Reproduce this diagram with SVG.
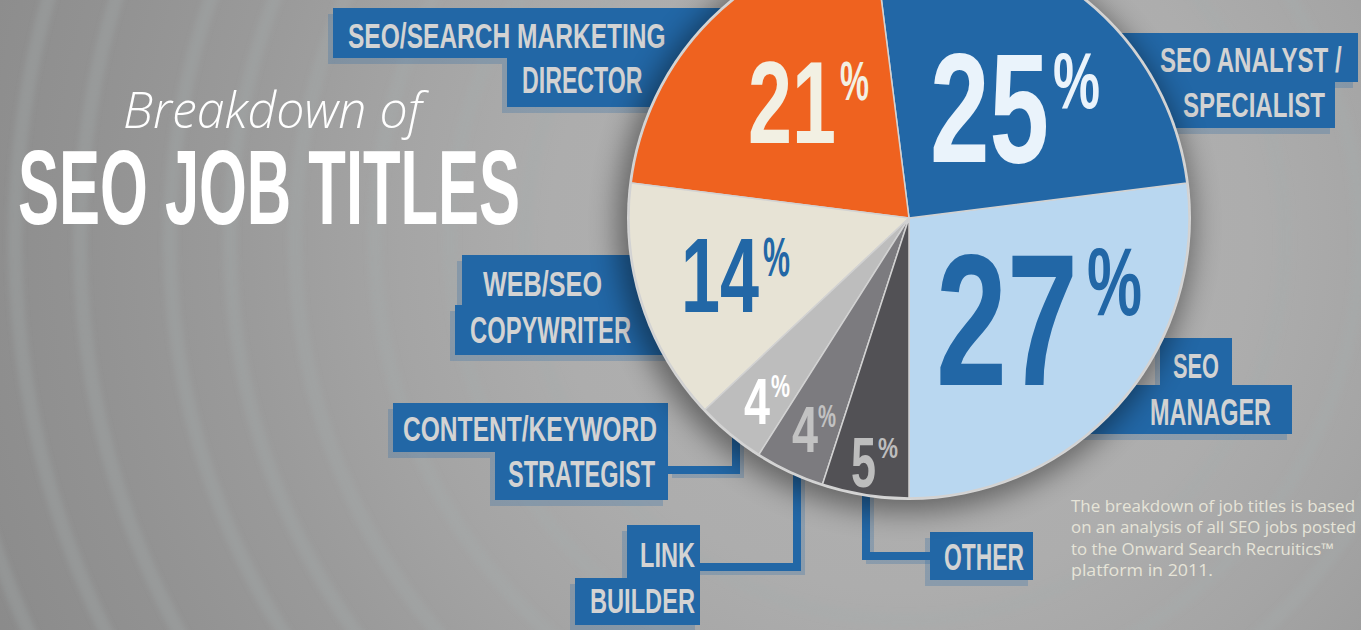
<svg xmlns="http://www.w3.org/2000/svg" width="1361" height="630" viewBox="0 0 1361 630">
<defs>
<radialGradient id="bg" gradientUnits="userSpaceOnUse" cx="900" cy="240" r="1000">
<stop offset="0" stop-color="#b2b2b2"/>
<stop offset="0.35" stop-color="#adadad"/>
<stop offset="0.5" stop-color="#a5a5a5"/>
<stop offset="0.65" stop-color="#9b9b9b"/>
<stop offset="0.8" stop-color="#939393"/>
<stop offset="1" stop-color="#8a8a8a"/>
</radialGradient>
<filter id="blur" x="-20%" y="-20%" width="140%" height="140%"><feGaussianBlur stdDeviation="14"/></filter>
<filter id="ringblur" x="-10%" y="-10%" width="120%" height="120%"><feGaussianBlur stdDeviation="2.5"/></filter>
<style>
.box{fill:#2267a6}
.bsh{fill:#2267a6;opacity:0.25}
.lbl{font-family:"Liberation Sans",Arial,sans-serif;font-weight:bold;fill:#d3d3d3;font-size:36px}
.con{fill:none;stroke:#2267a6;stroke-width:8}
.csh{fill:none;stroke:#2267a6;stroke-width:8;opacity:0.25}
.num{font-family:"Liberation Sans",Arial,sans-serif;font-weight:bold}
.sep{stroke:#d2d2d2;stroke-width:1.5;stroke-linejoin:round}
.note{font-family:"Open Sans","DejaVu Sans",sans-serif;font-size:16px;fill:#e6e4d8}
.ring{fill:none;stroke:#a6acac;stroke-width:14;opacity:0.3}
</style>
</defs>
<rect width="1361" height="630" fill="url(#bg)"/>
<g filter="url(#ringblur)">
<circle class="ring" cx="905" cy="240" r="380"/>
<circle class="ring" cx="905" cy="240" r="455"/>
<circle class="ring" cx="905" cy="240" r="530"/>
<circle class="ring" cx="905" cy="240" r="610"/>
<circle class="ring" cx="905" cy="240" r="675"/>
<circle class="ring" cx="905" cy="240" r="735"/>
<circle class="ring" cx="905" cy="240" r="825"/>
<circle class="ring" cx="905" cy="240" r="890"/>
<circle class="ring" cx="905" cy="240" r="960"/>
</g>

<g id="connectors">
<polyline class="csh" points="672,474 740,474 740,430"/>
<polyline class="csh" points="700,571 801,571 801,470"/>
<polyline class="csh" points="870,490 870,560 930,560"/>
<polyline class="con" points="668,470 736,470 736,430"/>
<polyline class="con" points="700,567 797,567 797,470"/>
<polyline class="con" points="866,490 866,556 930,556"/>
</g>

<g id="label-director">
<path class="bsh" transform="translate(-5,6)" d="M333,8H740V107H507V58H333Z"/>
<path class="box" d="M333,8H740V107H507V58H333Z"/>
<text class="lbl" transform="translate(348,48) scale(0.682,1)">SEO/SEARCH MARKETING</text>
<text class="lbl" transform="translate(522,93) scale(0.644,1)">DIRECTOR</text>
</g>
<g id="label-analyst">
<path class="bsh" transform="translate(-5,6)" d="M1090,33H1358V82H1335V128H1090Z"/>
<path class="box" d="M1090,33H1358V82H1335V128H1090Z"/>
<text class="lbl" transform="translate(1160,72) scale(0.67,1)">SEO ANALYST /</text>
<text class="lbl" transform="translate(1183,117) scale(0.67,1)">SPECIALIST</text>
</g>
<g id="label-copywriter">
<path class="bsh" transform="translate(-5,6)" d="M462,255H700V355H455V305H462Z"/>
<path class="box" d="M462,255H700V355H455V305H462Z"/>
<text class="lbl" transform="translate(483,296) scale(0.70,1)">WEB/SEO</text>
<text class="lbl" transform="translate(470,343) scale(0.66,1)">COPYWRITER</text>
</g>
<g id="label-strategist">
<path class="bsh" transform="translate(-5,6)" d="M393,403H668V500H495V452H393Z"/>
<path class="box" d="M393,403H668V500H495V452H393Z"/>
<text class="lbl" transform="translate(403,441) scale(0.683,1)">CONTENT/KEYWORD</text>
<text class="lbl" transform="translate(508,487) scale(0.653,1)">STRATEGIST</text>
</g>
<g id="label-linkbuilder">
<path class="bsh" transform="translate(-5,6)" d="M627,525H700V625H575V578H627Z"/>
<path class="box" d="M627,525H700V625H575V578H627Z"/>
<text class="lbl" transform="translate(640,567) scale(0.655,1)">LINK</text>
<text class="lbl" transform="translate(590,613) scale(0.656,1)">BUILDER</text>
</g>
<g id="label-other">
<path class="bsh" transform="translate(-5,6)" d="M930,532H1033V580H930Z"/>
<path class="box" d="M930,532H1033V580H930Z"/>
<text class="lbl" transform="translate(944,570) scale(0.635,1)">OTHER</text>
</g>
<g id="label-manager">
<path class="bsh" transform="translate(-5,6)" d="M1160,338H1232V385H1292V434H1080V385H1160Z"/>
<path class="box" d="M1160,338H1232V385H1292V434H1080V385H1160Z"/>
<text class="lbl" transform="translate(1173,378) scale(0.605,1)">SEO</text>
<text class="lbl" transform="translate(1150,425) scale(0.651,1)">MANAGER</text>
</g>

<g id="pie">
<circle cx="905" cy="224" r="288" fill="#000" opacity="0.42" filter="url(#blur)"/>
<circle cx="909" cy="218" r="282" fill="#d6d6d6"/>
<g class="sep">
<path d="M909,218L909,498A280,280 0 0 0 1186.8,182.9Z" fill="#b9d7f0"/>
<path d="M909,218L1186.8,182.9A280,280 0 0 0 873.9,-59.8Z" fill="#2267a6"/>
<path d="M909,218L873.9,-59.8A280,280 0 0 0 631.2,182.9Z" fill="#ef621f"/>
<path d="M909,218L631.2,182.9A280,280 0 0 0 704.9,409.7Z" fill="#e7e3d5"/>
<path d="M909,218L704.9,409.7A280,280 0 0 0 759,454.4Z" fill="#bdbdbd"/>
<path d="M909,218L759,454.4A280,280 0 0 0 822.5,484.3Z" fill="#7c7b7f"/>
<path d="M909,218L822.5,484.3A280,280 0 0 0 909,498Z" fill="#525155"/>
</g>
</g>

<g id="values">
<text class="num" font-size="116" fill="#f2f0e3" transform="translate(748,143) scale(0.682,1)">21</text>
<text class="num" font-size="56" fill="#f2f0e3" transform="translate(840,100) scale(0.582,1)">%</text>
<text class="num" font-size="156" fill="#eaf3fb" transform="translate(930,162) scale(0.686,1)">25</text>
<text class="num" font-size="80" fill="#eaf3fb" transform="translate(1053,108) scale(0.661,1)">%</text>
<text class="num" font-size="106" fill="#2267a6" transform="translate(681,312) scale(0.662,1)">14</text>
<text class="num" font-size="56" fill="#2267a6" transform="translate(763,276) scale(0.542,1)">%</text>
<text class="num" font-size="188" fill="#2267a6" transform="translate(936,385) scale(0.679,1)">27</text>
<text class="num" font-size="97" fill="#2267a6" transform="translate(1087,315) scale(0.638,1)">%</text>
<text class="num" font-size="64" fill="#ffffff" transform="translate(744,424) scale(0.73,1)">4</text>
<text class="num" font-size="32" fill="#ffffff" transform="translate(771,397) scale(0.668,1)">%</text>
<text class="num" font-size="65" fill="#c2c2c2" transform="translate(792,452) scale(0.72,1)">4</text>
<text class="num" font-size="32" fill="#c2c2c2" transform="translate(818,427) scale(0.633,1)">%</text>
<text class="num" font-size="70" fill="#bdbdbd" transform="translate(851,487) scale(0.643,1)">5</text>
<text class="num" font-size="30" fill="#bdbdbd" transform="translate(878,458) scale(0.75,1)">%</text>
</g>

<g id="title">
<text x="123" y="128" font-family="'Open Sans','DejaVu Sans',sans-serif" font-weight="300" font-style="italic" font-size="50" fill="#ffffff" textLength="299" lengthAdjust="spacingAndGlyphs">Breakdown of</text>
<text font-family="'Liberation Sans',Arial,sans-serif" font-weight="bold" font-size="106" fill="#ffffff" transform="translate(18,224) scale(0.58,1)">SEO JOB TITLES</text>
</g>

<g id="footnote">
<text class="note" x="1071" y="512" textLength="284" lengthAdjust="spacingAndGlyphs">The breakdown of job titles is based</text>
<text class="note" x="1071" y="533" textLength="285" lengthAdjust="spacingAndGlyphs">on an analysis of all SEO jobs posted</text>
<text class="note" x="1071" y="555" textLength="263" lengthAdjust="spacingAndGlyphs">to the Onward Search Recruitics™</text>
<text class="note" x="1071" y="576" textLength="142" lengthAdjust="spacingAndGlyphs">platform in 2011.</text>
</g>
</svg>
